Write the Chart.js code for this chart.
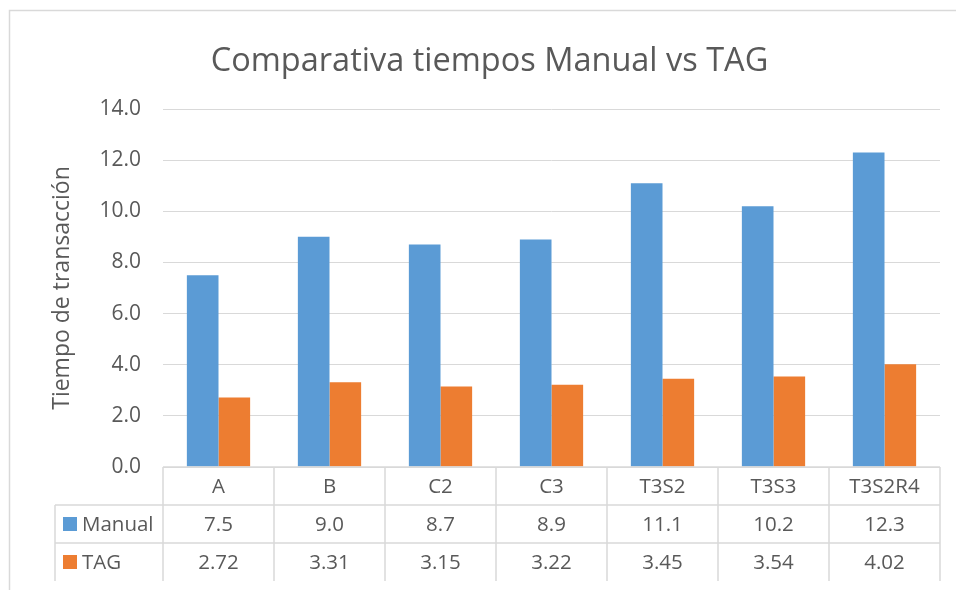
<!DOCTYPE html>
<html>
<head>
<meta charset="utf-8">
<script src="https://cdn.jsdelivr.net/npm/chart.js@4"></script>
<style>
  html, body { margin:0; padding:0; background:#fff; }
  #wrap { width:956px; height:590px; position:relative; }
</style>
</head>
<body>
<div id="wrap"><canvas id="chart" width="956" height="590"></canvas></div>
<script>
// ---------------------------------------------------------------
// Data (data table under the chart)
// ---------------------------------------------------------------
const categories = ['A','B','C2','C3','T3S2','T3S3','T3S2R4'];
const manualTimes = [7.5, 9.0, 8.7, 8.9, 11.1, 10.2, 12.3];
const tagTimes    = [2.72, 3.31, 3.15, 3.22, 3.45, 3.54, 4.02];
const yTicks      = [0, 2, 4, 6, 8, 10, 12, 14];

const FONT = 'Open Sans';
const TEXT = '#595959';
const LINE = '#d9d9d9';

// rows of the data table: label, colour, values, decimals
const tableRows = [
  { label:'Manual', color:'#5B9BD5', values: manualTimes, dec:1 },
  { label:'TAG',    color:'#ED7D31', values: tagTimes,    dec:2 }
];

// ---------------------------------------------------------------
// Excel-style data table + outer frame
// ---------------------------------------------------------------
const dataTable = {
  id: 'dataTable',
  afterDraw(chart){
    const ctx = chart.ctx;
    const x = chart.scales.x;
    const area = chart.chartArea;
    const colW = x.width / categories.length;
    const rowH = 38;
    const top = area.bottom;
    const legendLeft = 55;
    const right = area.right;

    ctx.save();
    ctx.strokeStyle = LINE;
    ctx.lineWidth = 1.5;

    // horizontal lines
    ctx.beginPath();
    ctx.moveTo(area.left, top); ctx.lineTo(right, top);
    for (let r = 1; r <= tableRows.length; r++){
      ctx.moveTo(legendLeft, top + rowH*r); ctx.lineTo(right, top + rowH*r);
    }
    // vertical lines
    const bottom = top + rowH*(tableRows.length+1);
    ctx.moveTo(legendLeft, top + rowH); ctx.lineTo(legendLeft, bottom);
    for (let i = 0; i <= categories.length; i++){
      const cx = area.left + colW*i;
      ctx.moveTo(cx, top); ctx.lineTo(cx, bottom);
    }
    ctx.stroke();

    // texts
    ctx.fillStyle = TEXT;
    ctx.font = `20.5px "${FONT}"`;
    ctx.textAlign = 'center';
    ctx.textBaseline = 'middle';
    categories.forEach((c,i) => {
      ctx.fillText(c, x.getPixelForValue(i), top + rowH/2 + 1);
    });
    tableRows.forEach((row, r) => {
      const cy = top + rowH*(r+1) + rowH/2 + 1;
      row.values.forEach((v,i) => {
        ctx.fillStyle = TEXT;
        ctx.textAlign = 'center';
        ctx.fillText(v.toFixed(row.dec), x.getPixelForValue(i), cy);
      });
      ctx.fillStyle = row.color;
      ctx.fillRect(legendLeft + 8, cy - 8, 14, 14);
      ctx.fillStyle = TEXT;
      ctx.textAlign = 'left';
      ctx.fillText(row.label, legendLeft + 27, cy);
    });

    // chart frame (top + left edges visible in the crop)
    ctx.beginPath();
    ctx.moveTo(9.5, 590); ctx.lineTo(9.5, 10.5); ctx.lineTo(956, 10.5);
    ctx.stroke();
    ctx.restore();
  }
};

new Chart(document.getElementById('chart'), {
  type: 'bar',
  data: {
    labels: categories,
    datasets: [
      { label:'Manual', data: manualTimes, backgroundColor:'#5B9BD5', borderWidth:0 },
      { label:'TAG',    data: tagTimes,    backgroundColor:'#ED7D31', borderWidth:0 }
    ]
  },
  options: {
    responsive: false,
    animation: false,
    layout: { padding: { left:39, right:16, top:12, bottom:0 } },
    datasets: { bar: { categoryPercentage:0.57, barPercentage:1.0 } },
    plugins: {
      legend: { display:false },
      tooltip: { enabled:false },
      title: {
        display: true,
        text: 'Comparativa tiempos Manual vs TAG',
        color: TEXT,
        font: { family: FONT, size: 32.5, weight: 'normal' },
        padding: { top:30, bottom:28 }
      }
    },
    scales: {
      x: {
        grid: { display:false },
        border: { display:false },
        ticks: { display:false },
        afterFit(scale){ scale.height = 123; }
      },
      y: {
        min: 0, max: 14,
        afterBuildTicks(scale){ scale.ticks = yTicks.map(v => ({ value:v })); },
        grid: { color: LINE, lineWidth: 1, drawTicks:false },
        border: { display:false },
        ticks: {
          color: TEXT, padding: 22,
          font: { family: FONT, size: 21 },
          callback: v => Number(v).toFixed(1)
        },
        title: {
          display: true,
          text: 'Tiempo de transacción',
          color: TEXT,
          font: { family: FONT, size: 23 },
          padding: { top:10, bottom:0 }
        },
        afterFit(scale){ scale.width = 124; }
      }
    }
  },
  plugins: [dataTable]
});
</script>
</body>
</html>
